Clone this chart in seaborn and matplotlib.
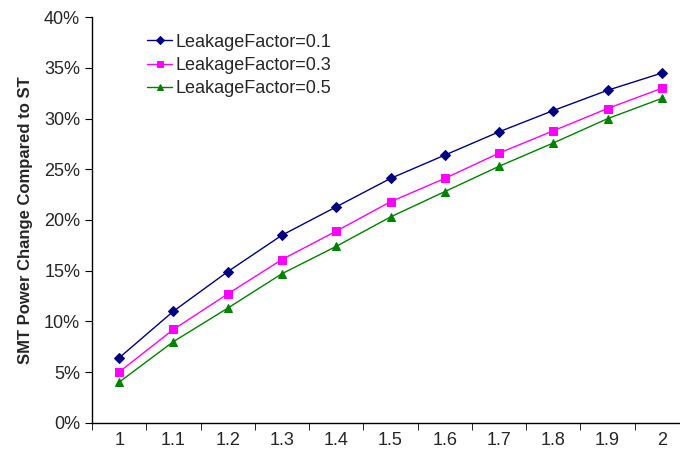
import numpy as np
import pandas as pd
import matplotlib
matplotlib.use("Agg")
import matplotlib.pyplot as plt
import seaborn as sns
from matplotlib.ticker import PercentFormatter, FixedLocator

sns.set_style("white")
plt.rcParams['font.family'] = ['Liberation Sans', 'DejaVu Sans']

ratios = ["1", "1.1", "1.2", "1.3", "1.4", "1.5", "1.6", "1.7", "1.8", "1.9", "2"]
lf_01 = [6.4, 11.0, 14.9, 18.5, 21.3, 24.1, 26.4, 28.7, 30.8, 32.8, 34.5]
lf_03 = [5.0, 9.2, 12.7, 16.1, 18.9, 21.8, 24.1, 26.6, 28.8, 31.0, 33.0]
lf_05 = [4.0, 8.0, 11.3, 14.7, 17.4, 20.3, 22.8, 25.3, 27.6, 30.0, 32.0]
series = ["LeakageFactor=0.1", "LeakageFactor=0.3", "LeakageFactor=0.5"]

df = pd.DataFrame({
    "ratio": ratios * 3,
    "change": np.array(lf_01 + lf_03 + lf_05) / 100,
    "series": np.repeat(series, len(ratios)),
})

fig = plt.figure(figsize=(6.8, 4.58), dpi=100)
ax = fig.add_axes([92 / 680, 35.3 / 458, 597 / 680, 405.4 / 458])

sns.pointplot(data=df, x="ratio", y="change", hue="series", order=ratios,
              hue_order=series, palette=["#000080", "#FF00FF", "#008000"],
              markers=["D", "s", "^"], linestyles="-", errorbar=None,
              markersize=5.5, linewidth=1, ax=ax)

ax.set_xlim(-0.5, 10.5)
ax.set_ylim(0, 0.4)
ax.set_yticks(np.arange(0, 0.401, 0.05))
ax.yaxis.set_major_formatter(PercentFormatter(1.0, decimals=0))
ax.xaxis.set_minor_locator(FixedLocator(np.arange(-0.5, 10.6, 1)))
ax.tick_params(axis='x', which='major', length=0, labelsize=13, pad=7)
ax.tick_params(axis='x', which='minor', length=5, direction='out', color='black', bottom=True)
ax.tick_params(axis='y', length=5, direction='out', color='black', labelsize=13, left=True)

for s in ['top', 'right']:
    ax.spines[s].set_visible(False)
for s in ['left', 'bottom']:
    ax.spines[s].set_color('black')
    ax.spines[s].set_linewidth(1)

ax.set_xlabel("")
ax.set_ylabel("SMT Power Change Compared to ST", fontsize=12, fontweight='bold', labelpad=8)

ax.legend(loc='upper left', bbox_to_anchor=(0.065, 1.0), frameon=False,
          fontsize=13, handlelength=1.4, handletextpad=0.2, labelspacing=0.35,
          markerscale=0.8)

fig.savefig("out.png", dpi=100)
